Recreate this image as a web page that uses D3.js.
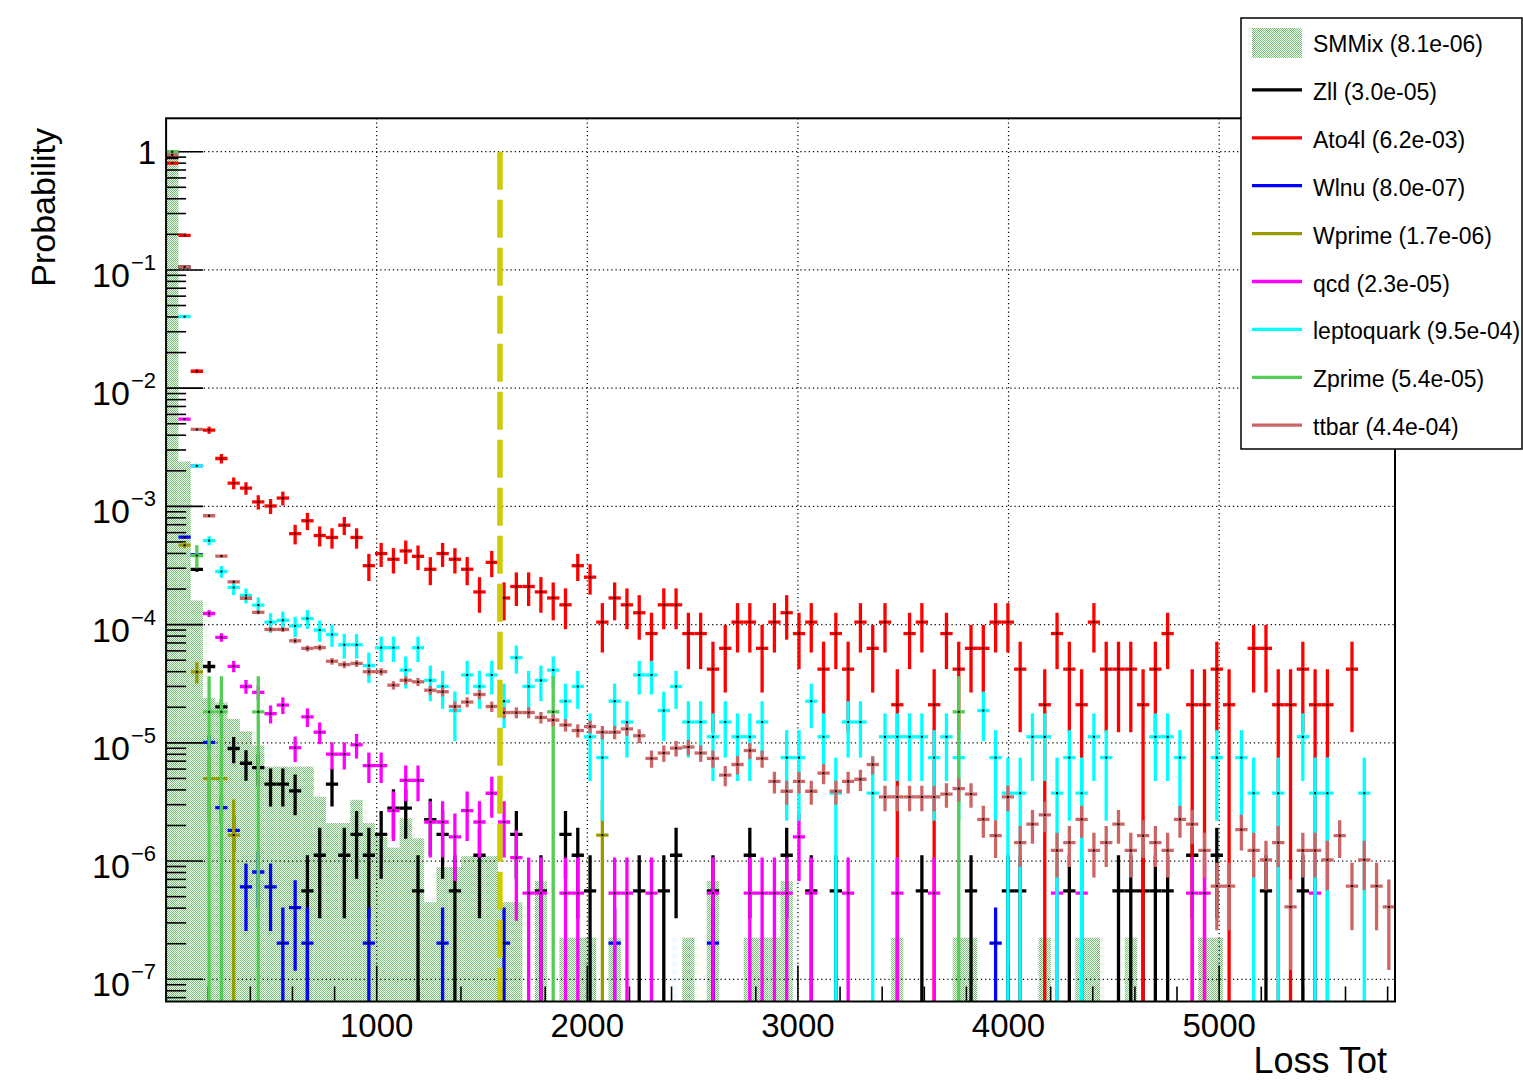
<!DOCTYPE html>
<html>
<head>
<meta charset="utf-8">
<script src="https://cdn.jsdelivr.net/npm/d3@7"></script>
<style>
  body { margin: 0; background: #fff; }
  svg { display: block; }
  text { font-family: "Liberation Sans", Arial, Helvetica, sans-serif; fill: #000; }
</style>
</head>
<body>
<svg id="chart" width="1523" height="1082"></svg>
<script>
// ---- binning and axis ranges ----
const lossTotRange = [0, 5835];
const nBins = 100;
const probabilityRange = [6.49e-8, 1.9165];
const xTickValues = [1000, 2000, 3000, 4000, 5000];
const yDecades = [0, -1, -2, -3, -4, -5, -6, -7];
const cutLossTot = 1585;

// ---- SMMix: normalised probability per bin (filled histogram) ----
const smmixValues = [
  1.0, 2.4e-3, 1.6e-4, 2.4e-5, 2.2e-5, 1.6e-5, 1.25e-5, 9.5e-6, 6.3e-6, 6.3e-6,
  6.3e-6, 6.3e-6, 3.5e-6, 2.1e-6, 2.1e-6, 3.3e-6, 2.1e-6, 1.6e-6, 1.3e-6, 2.3e-6,
  1.56e-6, 4.5e-7, 8.9e-7, 8.9e-7, 1.1e-6, 1.1e-6, 1.1e-6, 4.5e-7, 4.5e-7, 0,
  6.8e-7, 0, 2.25e-7, 2.25e-7, 2.25e-7, 0, 2.25e-7, 0, 0, 0,
  0, 0, 2.25e-7, 0, 6.8e-7, 0, 0, 2.25e-7, 2.25e-7, 2.25e-7,
  6.8e-7, 0, 0, 0, 0, 0, 0, 0, 0, 2.25e-7,
  0, 0, 0, 0, 2.25e-7, 2.25e-7, 0, 0, 0, 0,
  0, 2.25e-7, 0, 0, 2.25e-7, 2.25e-7, 0, 0, 2.25e-7, 0,
  0, 0, 0, 0, 2.25e-7, 2.25e-7, 0, 0, 0, 0,
  0, 0, 0, 0, 0, 0, 0, 0, 0, 0
];

// ---- per-sample entries per bin and the weight of one entry ----
const zllWeight = 5.6e-7;
const zllCounts = [
  1590000, 189000, 523, 79, 36, 16, 12, 11, 8, 8,
  7, 1, 2, 8, 2, 3, 2, 3, 5, 5,
  1, 4, 3, 1, 0, 2, 0, 0, 3, 0,
  1, 0, 3, 2, 1, 0, 0, 0, 1, 0,
  1, 2, 0, 0, 1, 0, 0, 2, 0, 0,
  2, 0, 1, 0, 1, 0, 0, 0, 0, 0,
  0, 1, 0, 0, 0, 1, 0, 0, 1, 1,
  0, 0, 0, 1, 0, 0, 0, 1, 1, 1,
  1, 1, 0, 2, 0, 2, 0, 0, 0, 1,
  0, 0, 1, 0, 0, 0, 0, 0, 0, 0
];

const ato4lWeight = 2.1e-5;
const ato4lCounts = [
  38095, 9333, 662, 210, 121, 75, 68, 52, 48, 56,
  28, 36, 27, 26, 33, 26, 15, 19, 17, 20,
  18, 14, 19, 17, 14, 9, 16, 8, 10, 10,
  9, 8, 7, 15, 12, 5, 8, 7, 6, 4,
  7, 7, 4, 4, 2, 3, 5, 5, 3, 5,
  6, 4, 5, 2, 4, 2, 5, 3, 5, 1,
  4, 5, 1, 4, 2, 3, 3, 5, 5, 2,
  0, 1, 4, 2, 1, 5, 2, 2, 2, 1,
  2, 4, 0, 1, 1, 2, 1, 0, 3, 3,
  1, 1, 2, 1, 1, 0, 2, 0, 0, 0
];

const wlnuWeight = 2.02e-7;
const wlnuCounts = [
  4946000, 2720, 1930, 50, 14, 9, 3, 4, 3, 1,
  2, 1, 0, 0, 0, 0, 1, 0, 0, 0,
  0, 0, 1, 0, 0, 0, 0, 1, 0, 0,
  0, 0, 0, 0, 0, 0, 1, 0, 0, 0,
  0, 0, 0, 0, 1, 0, 0, 0, 0, 0,
  0, 0, 0, 0, 0, 0, 0, 0, 0, 0,
  0, 0, 0, 0, 0, 0, 0, 1, 0, 0,
  0, 0, 0, 0, 0, 0, 0, 0, 0, 0,
  0, 0, 0, 0, 0, 0, 0, 0, 0, 0,
  0, 0, 0, 0, 0, 0, 0, 0, 0, 0
];

const wprimeWeight = 1.66e-6;
const wprimeCounts = [
  601600, 283, 24, 3, 3, 1, 0, 0, 0, 0,
  0, 0, 0, 0, 0, 0, 0, 0, 0, 0,
  0, 0, 0, 0, 0, 0, 0, 0, 0, 0,
  0, 0, 0, 0, 0, 1, 0, 0, 0, 0,
  0, 0, 0, 0, 0, 0, 0, 0, 0, 0,
  0, 0, 0, 0, 0, 0, 0, 0, 0, 0,
  0, 0, 0, 0, 0, 0, 0, 0, 0, 0,
  0, 0, 0, 0, 0, 0, 0, 0, 0, 0,
  0, 0, 0, 0, 0, 0, 0, 0, 0, 0,
  0, 0, 0, 0, 0, 0, 0, 0, 0, 0
];

const qcdWeight = 5.35e-7;
const qcdCounts = [
  1850000, 10240, 4110, 232, 146, 83, 56, 50, 33, 39,
  17, 31, 23, 15, 15, 18, 12, 12, 5, 9,
  9, 4, 4, 3, 5, 4, 7, 4, 2, 1,
  1, 0, 1, 1, 0, 0, 1, 1, 0, 1,
  0, 0, 0, 0, 1, 0, 0, 1, 1, 1,
  1, 3, 1, 0, 0, 1, 0, 0, 0, 1,
  0, 0, 1, 0, 0, 0, 0, 0, 0, 0,
  0, 0, 1, 0, 1, 0, 0, 0, 0, 0,
  0, 0, 0, 1, 1, 0, 0, 0, 0, 0,
  0, 0, 0, 1, 0, 0, 0, 0, 0, 0
];

const leptoquarkWeight = 3.75e-6;
const leptoquarkCounts = [
  256000, 10720, 587, 137, 75, 55, 47, 39, 28, 29,
  26, 30, 24, 22, 18, 18, 12, 17, 17, 11,
  17, 9, 8, 5, 10, 8, 10, 6, 14, 8,
  9, 11, 6, 8, 3, 2, 6, 4, 10, 10,
  5, 8, 4, 4, 3, 4, 3, 3, 4, 0,
  2, 2, 6, 3, 1, 4, 4, 1, 3, 3,
  3, 3, 2, 3, 2, 0, 5, 2, 1, 1,
  3, 3, 1, 2, 1, 3, 2, 0, 0, 0,
  3, 3, 2, 0, 0, 2, 0, 2, 1, 0,
  1, 0, 3, 1, 1, 0, 0, 1, 0, 0
];

const zprimeWeight = 1.83e-5;
const zprimeCounts = [
  54570, 0, 21, 1, 1, 0, 0, 1, 0, 0,
  0, 0, 0, 0, 0, 0, 0, 0, 0, 0,
  0, 0, 0, 0, 0, 0, 0, 0, 0, 0,
  0, 1, 0, 0, 0, 0, 0, 0, 0, 0,
  0, 0, 0, 0, 0, 0, 0, 0, 0, 0,
  0, 0, 0, 0, 0, 0, 0, 0, 0, 0,
  0, 0, 0, 0, 1, 0, 0, 0, 0, 0,
  0, 0, 0, 0, 0, 0, 0, 0, 0, 0,
  0, 0, 0, 0, 0, 0, 0, 0, 0, 0,
  0, 0, 0, 0, 0, 0, 0, 0, 0, 0
];

const ttbarWeight = 2.05e-7;
const ttbarCounts = [
  4585000, 517000, 21850, 4063, 1854, 1122, 815, 620, 444, 444,
  356, 307, 312, 239, 224, 229, 195, 195, 150, 165,
  160, 136, 132, 99, 108, 125, 99, 88, 88, 88,
  80, 76, 69, 62, 67, 60, 60, 64, 56, 36,
  40, 44, 45, 40, 36, 26, 32, 42, 36, 23,
  19, 23, 19, 27, 19, 23, 24, 32, 17, 17,
  17, 17, 17, 18, 20, 18, 11, 8, 17, 7,
  10, 12, 6, 7, 11, 6, 7, 10, 6, 8,
  7, 6, 11, 10, 6, 3, 3, 9, 6, 5,
  7, 2, 6, 6, 5, 8, 3, 5, 3, 2
];

// ---- legend text ----
const legendLabels = [
  "SMMix (8.1e-06)", "Zll (3.0e-05)", "Ato4l (6.2e-03)", "Wlnu (8.0e-07)",
  "Wprime (1.7e-06)", "qcd (2.3e-05)", "leptoquark (9.5e-04)", "Zprime (5.4e-05)",
  "ttbar (4.4e-04)"
];

// samples drawn as error crosses, in drawing order
const samples = [
  { counts: zllCounts,        weight: zllWeight,        color: "#000000" },
  { counts: ato4lCounts,      weight: ato4lWeight,      color: "#ff0000" },
  { counts: wlnuCounts,       weight: wlnuWeight,       color: "#0000ff" },
  { counts: wprimeCounts,     weight: wprimeWeight,     color: "#999900" },
  { counts: qcdCounts,        weight: qcdWeight,        color: "#ff00ff" },
  { counts: leptoquarkCounts, weight: leptoquarkWeight, color: "#00ffff" },
  { counts: zprimeCounts,     weight: zprimeWeight,     color: "#55cc55" },
  { counts: ttbarCounts,      weight: ttbarWeight,      color: "#cc6666" }
];

// ---- layout ----
const svg = d3.select("#chart");
const plot = { left: 166.1, right: 1395, top: 118.3, bottom: 1001.5 };
const x = d3.scaleLinear().domain(lossTotRange).range([plot.left, plot.right]);
const y = d3.scaleLog().domain(probabilityRange).range([plot.bottom, plot.top]);
const binWidth = (lossTotRange[1] - lossTotRange[0]) / nBins;
const binLow = i => lossTotRange[0] + i * binWidth;

const defs = svg.append("defs");
const hatch = defs.append("pattern")
  .attr("id", "smHatch").attr("width", 2).attr("height", 2)
  .attr("patternUnits", "userSpaceOnUse");
hatch.append("rect").attr("x", 0).attr("y", 0).attr("width", 1).attr("height", 1).attr("fill", "#6cc46c");
hatch.append("rect").attr("x", 1).attr("y", 1).attr("width", 1).attr("height", 1).attr("fill", "#6cc46c");
defs.append("clipPath").attr("id", "plotClip").append("rect")
  .attr("x", plot.left).attr("y", plot.top)
  .attr("width", plot.right - plot.left).attr("height", plot.bottom - plot.top);

// SMMix filled histogram
svg.append("g").attr("clip-path", "url(#plotClip)")
  .selectAll("rect")
  .data(smmixValues.map((v, i) => ({ v, i })).filter(d => d.v > 0))
  .join("rect")
  .attr("x", d => x(binLow(d.i)))
  .attr("width", d => x(binLow(d.i + 1)) - x(binLow(d.i)))
  .attr("y", d => y(d.v))
  .attr("height", d => plot.bottom - y(d.v))
  .attr("fill", "url(#smHatch)");

// dotted grid at major ticks
const grid = svg.append("g").attr("stroke", "#000").attr("stroke-width", 1.2)
  .attr("stroke-dasharray", "1.2,3");
grid.selectAll("line.gx").data(xTickValues).join("line").attr("class", "gx")
  .attr("x1", d => x(d)).attr("x2", d => x(d))
  .attr("y1", plot.top).attr("y2", plot.bottom);
grid.selectAll("line.gy").data(yDecades).join("line").attr("class", "gy")
  .attr("x1", plot.left).attr("x2", plot.right)
  .attr("y1", d => y(Math.pow(10, d))).attr("y2", d => y(Math.pow(10, d)));

// axis tick marks (inward)
const ticks = svg.append("g").attr("stroke", "#000").attr("stroke-width", 1.6);
const yMinor = [];
for (let e = -8; e <= 0; e++) {
  for (let m = 2; m <= 9; m++) {
    const v = m * Math.pow(10, e);
    if (v > probabilityRange[0] && v < probabilityRange[1]) yMinor.push(v);
  }
}
ticks.selectAll("line.ymaj").data(yDecades).join("line").attr("class", "ymaj")
  .attr("x1", plot.left).attr("x2", plot.left + 37)
  .attr("y1", d => y(Math.pow(10, d))).attr("y2", d => y(Math.pow(10, d)));
ticks.selectAll("line.ymin").data(yMinor).join("line").attr("class", "ymin")
  .attr("x1", plot.left).attr("x2", plot.left + 20)
  .attr("y1", d => y(d)).attr("y2", d => y(d));
const xMinor = d3.range(200, lossTotRange[1], 200).filter(v => v % 1000 !== 0);
ticks.selectAll("line.xmaj").data(xTickValues).join("line").attr("class", "xmaj")
  .attr("x1", d => x(d)).attr("x2", d => x(d))
  .attr("y1", plot.bottom).attr("y2", plot.bottom - 36);
ticks.selectAll("line.xmin").data(xMinor).join("line").attr("class", "xmin")
  .attr("x1", d => x(d)).attr("x2", d => x(d))
  .attr("y1", plot.bottom).attr("y2", plot.bottom - 15);

// error crosses: horizontal bar over the bin, vertical bar for Poisson error
const bars = svg.append("g").attr("clip-path", "url(#plotClip)");
samples.forEach(s => {
  const pts = [];
  s.counts.forEach((c, i) => {
    if (c <= 0) return;
    const v = c * s.weight;
    const err = Math.sqrt(c) * s.weight;
    pts.push({
      x0: x(binLow(i)), x1: x(binLow(i + 1)), xc: x(binLow(i) + binWidth / 2),
      yv: y(v),
      yHi: y(Math.min(v + err, probabilityRange[1])),
      yLo: (v - err) > probabilityRange[0] ? y(v - err) : plot.bottom
    });
  });
  const g = bars.append("g").attr("stroke", s.color).attr("stroke-width", 3.3);
  g.selectAll("line.h").data(pts).join("line").attr("class", "h")
    .attr("x1", d => d.x0).attr("x2", d => d.x1)
    .attr("y1", d => d.yv).attr("y2", d => d.yv);
  g.selectAll("line.v").data(pts).join("line").attr("class", "v")
    .attr("x1", d => d.xc).attr("x2", d => d.xc)
    .attr("y1", d => d.yHi).attr("y2", d => d.yLo);
  bars.append("g").selectAll("rect").data(pts).join("rect")
    .attr("x", d => d.xc - 1).attr("y", d => d.yv - 1)
    .attr("width", 2).attr("height", 2).attr("fill", "#000");
});

// cut line
svg.append("line")
  .attr("x1", x(cutLossTot)).attr("x2", x(cutLossTot))
  .attr("y1", y(1)).attr("y2", plot.bottom)
  .attr("stroke", "#cccc00").attr("stroke-width", 5.5)
  .attr("stroke-dasharray", "38,10");

// frame
svg.append("rect")
  .attr("x", plot.left).attr("y", plot.top)
  .attr("width", plot.right - plot.left).attr("height", plot.bottom - plot.top)
  .attr("fill", "none").attr("stroke", "#000").attr("stroke-width", 2);

// x tick labels
svg.append("g").selectAll("text").data(xTickValues).join("text")
  .attr("x", d => x(d)).attr("y", 1037)
  .attr("text-anchor", "middle").attr("font-size", 33)
  .text(d => d);

// y tick labels: 1, 10^-1 ... 10^-7
const yLab = svg.append("g");
yDecades.forEach(e => {
  const yy = y(Math.pow(10, e));
  if (e === 0) {
    yLab.append("text").attr("x", 156).attr("y", yy + 12)
      .attr("text-anchor", "end").attr("font-size", 33).text("1");
  } else {
    const t = yLab.append("text").attr("x", 156).attr("y", yy + 17)
      .attr("text-anchor", "end").attr("font-size", 34);
    t.append("tspan").text("10");
    t.append("tspan").attr("font-size", 22).attr("dx", 1).attr("dy", -17).text("\u2212" + (-e));
  }
});

// axis titles
svg.append("text").attr("x", 1387).attr("y", 1073)
  .attr("text-anchor", "end").attr("font-size", 36).text("Loss Tot");
svg.append("text")
  .attr("transform", "translate(55,128) rotate(-90)")
  .attr("text-anchor", "end").attr("font-size", 34).text("Probability");

// legend
const legend = svg.append("g");
legend.append("rect").attr("x", 1241).attr("y", 18).attr("width", 281).attr("height", 431)
  .attr("fill", "#fff").attr("stroke", "#000").attr("stroke-width", 1.5);
const legendColors = ["url(#smHatch)"].concat(samples.map(s => s.color));
legendLabels.forEach((label, k) => {
  const cy = 44 + k * 47.9;
  if (k === 0) {
    legend.append("rect").attr("x", 1252).attr("y", cy - 16).attr("width", 50).attr("height", 30)
      .attr("fill", legendColors[0]);
  } else {
    legend.append("line").attr("x1", 1252).attr("x2", 1302).attr("y1", cy - 2).attr("y2", cy - 2)
      .attr("stroke", legendColors[k]).attr("stroke-width", 3.3);
  }
  legend.append("text").attr("x", 1313).attr("y", cy + 8)
    .attr("font-size", 23).text(label);
});
</script>
</body>
</html>
